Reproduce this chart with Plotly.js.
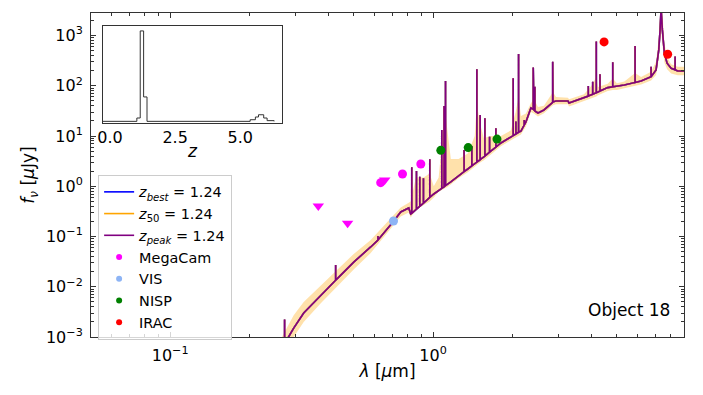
<!DOCTYPE html>
<html>
<head>
<meta charset="utf-8">
<script src="https://cdn.plot.ly/plotly-3.0.1.min.js"></script>
<style>
    html, body { margin: 0; padding: 0; background: #fff; }
    #sed-chart { width: 703px; height: 395px; }
</style>
</head>
<body>
<div id="sed-chart"></div>
<script>
// model continuum (wavelength in um, flux in uJy)
const lambdaCont = [0.26, 0.282, 0.295, 0.322, 0.374, 0.434, 0.499, 0.579, 0.709, 0.753, 0.808, 0.822,
    1.006, 1.168, 1.355, 1.56, 1.811, 1.977, 2.158, 2.254, 2.355, 2.418, 2.505, 2.64, 2.857, 2.933,
    3.258, 3.287, 3.749, 4.238, 4.615, 5.337, 6.18, 6.745, 7.047, 7.216, 7.30, 7.364, 7.447, 7.58,
    7.762, 8.04, 8.52, 9.17];
const fluxCont = [0.0004, 0.001, 0.0015, 0.003, 0.0068, 0.0149, 0.031, 0.062, 0.204, 0.308, 0.37, 0.281,
    0.703, 1.22, 2.21, 3.84, 7.29, 9.6, 12.6, 19.1, 36.3, 33.1, 28.8, 33.1, 47.8, 50.0,
    50.0, 45.6, 57.4, 75.6, 92.1, 104, 125, 152, 207, 519, 1300, 3500, 1300, 446,
    282, 224, 198, 198];

// emission lines of the model
const lineWave = [0.2724, 0.426, 0.617, 0.8296, 0.8646, 0.890, 0.919, 0.9714, 1.079, 1.101, 1.115,
    1.312, 1.404, 1.467, 1.51, 1.574, 1.640, 1.733, 2.017, 2.065, 2.114, 2.221, 2.404, 2.439, 2.85,
    3.893, 4.046, 4.176, 4.313, 4.822, 5.864, 6.745, 8.326];
const linePeak = [0.00224, 0.027, 0.102, 2.39, 2.02, 1.55, 1.44, 3.45, 13.2, 39.8, 125,
    5.29, 6.35, 214, 26.3, 22.6, 9.7, 14.3, 142, 19.4, 432, 20.9, 231, 96.4, 303,
    99.5, 121, 759, 170, 295, 624, 241, 382];
const lineBase = [0.0007, 0.0135, 0.085, 0.29, 0.35, 0.40, 0.46, 0.60, 0.91, 0.98, 1.03,
    1.95, 2.55, 3.02, 3.38, 3.98, 4.77, 6.04, 10.2, 11.0, 11.9, 16.6, 34, 31.6, 47,
    62.5, 68, 73, 78.7, 95.5, 117, 152, 208];

// uncertainty band
const bandWave = [0.26, 0.282, 0.295, 0.322, 0.374, 0.434, 0.499, 0.579, 0.709, 0.753, 0.808, 0.822,
    0.86, 0.92, 0.97, 1.006, 1.05, 1.08, 1.11, 1.13, 1.168, 1.25, 1.355, 1.44, 1.467, 1.5, 1.56, 1.65,
    1.811, 1.977, 2.06, 2.114, 2.158, 2.254, 2.355, 2.418, 2.505, 2.64, 2.857, 2.933, 3.258, 3.287,
    3.749, 4.0, 4.176, 4.238, 4.615, 4.822, 5.0, 5.337, 5.864, 6.18, 6.745, 7.047, 7.216, 7.364,
    7.447, 7.58, 7.762, 8.04, 8.52, 9.17];
const bandLo = [0.00022, 0.00065, 0.001, 0.002, 0.0047, 0.0105, 0.022, 0.047, 0.165, 0.25, 0.3, 0.24,
    0.34, 0.42, 0.5, 0.6, 0.78, 0.84, 0.9, 0.96, 1.08, 1.45, 1.9, 2.5, 2.7, 2.9, 3.3, 4.2,
    6.3, 8.3, 9.3, 10.1, 10.8, 15.5, 30, 28, 24.5, 28.5, 41, 43, 43, 39,
    49, 55, 61, 65, 79, 83, 83, 90, 99, 106, 128, 165, 340, 1500,
    680, 290, 215, 176, 162, 162];
const bandHi = [0.0008, 0.0018, 0.0027, 0.005, 0.0107, 0.023, 0.045, 0.085, 0.26, 0.38, 0.47, 0.5,
    1.5, 1.5, 1.8, 1.0, 1.5, 8, 33, 15, 3.5, 3.5, 4.5, 10, 46, 20, 9, 10,
    10, 13, 30, 60, 25, 28, 45, 55, 38, 40, 75, 60, 58, 54,
    68, 100, 150, 95, 110, 140, 112, 122, 180, 150, 190, 300, 900, 5000,
    3000, 700, 380, 270, 240, 240];

// photometry
const megacamWave = [0.632, 0.765, 0.898];
const megacamFlux = [1.18, 1.76, 2.78];
const megacamLimWave = [0.366, 0.473, 0.655];
const megacamLimFlux = [0.405, 0.183, 1.33];
const visWave = [0.707];
const visFlux = [0.204];
const nispWave = [1.07, 1.36, 1.75];
const nispFlux = [5.2, 5.9, 8.7];
const iracWave = [4.47, 7.8];
const iracFlux = [750, 426];

// P(z)
const zStep = [-0.27, 1.03, 1.16, 1.29, 1.42, 5.38, 5.58, 5.70, 5.90, 6.03, 6.30];
const pdz = [0, 0.037, 1.0, 0.27, 0, 0.018, 0.048, 0.073, 0.037, 0.008, 0];

const zLabel = '1.24';

const xRange = [Math.log10(0.05), Math.log10(9)];
const yRange = [-3, 3.45];

document.addEventListener('DOMContentLoaded', () => {
    drawChart();
});

function buildSed() {
    // 連続光に輝線を差し込む
    const pts = [];
    lambdaCont.forEach((w, i) => pts.push({w: w, f: fluxCont[i], k: 0}));
    lineWave.forEach((w, i) => {
        pts.push({w: w, f: lineBase[i], k: 1});
        pts.push({w: w, f: linePeak[i], k: 2});
        pts.push({w: w, f: lineBase[i], k: 3});
    });
    pts.sort((a, b) => (a.w - b.w) || (a.k - b.k));
    return {x: pts.map(p => p.w), y: pts.map(p => p.f)};
}

function logMinorTicks(fromExp, toExp) {
    // 対数軸の補助目盛り (2..9 x 10^n)
    const vals = [];
    for (let e = fromExp; e <= toExp; e++) {
        for (let m = 2; m <= 9; m++) {
            vals.push(m * Math.pow(10, e));
        }
    }
    return vals;
}

function drawChart() {
    const sed = buildSed();

    const data = [
        {x: bandWave, y: bandLo, mode: 'lines', line: {width: 0, color: 'rgba(255,165,0,0)'},
            showlegend: false, hoverinfo: 'skip'},
        {x: bandWave, y: bandHi, mode: 'lines', line: {width: 0, color: 'rgba(255,165,0,0)'},
            fill: 'tonexty', fillcolor: 'rgba(255,165,0,0.33)', showlegend: false, hoverinfo: 'skip'},
        {x: sed.x, y: sed.y, mode: 'lines', name: '<i>z</i><sub><i>best</i></sub> = ' + zLabel,
            line: {color: 'blue', width: 1.6}},
        {x: sed.x, y: sed.y, mode: 'lines', name: '<i>z</i><sub>50</sub> = ' + zLabel,
            line: {color: 'orange', width: 1.6}},
        {x: sed.x, y: sed.y, mode: 'lines', name: '<i>z</i><sub><i>peak</i></sub> = ' + zLabel,
            line: {color: 'purple', width: 1.6}},
        {x: megacamLimWave, y: megacamLimFlux, mode: 'markers', showlegend: false,
            marker: {symbol: 'triangle-down', color: '#ff00ff', size: 10}},
        {x: megacamWave, y: megacamFlux, mode: 'markers', showlegend: false,
            marker: {color: '#ff00ff', size: 9}},
        {x: visWave, y: visFlux, mode: 'markers', showlegend: false,
            marker: {color: '#8db4f5', size: 9}},
        {x: nispWave, y: nispFlux, mode: 'markers', showlegend: false,
            marker: {color: 'green', size: 9}},
        {x: iracWave, y: iracFlux, mode: 'markers', showlegend: false,
            marker: {color: 'red', size: 9}},
        // 凡例用
        {x: [null], y: [null], mode: 'markers', name: 'MegaCam', marker: {color: '#ff00ff', size: 6}},
        {x: [null], y: [null], mode: 'markers', name: 'VIS', marker: {color: '#8db4f5', size: 6}},
        {x: [null], y: [null], mode: 'markers', name: 'NISP', marker: {color: 'green', size: 6}},
        {x: [null], y: [null], mode: 'markers', name: 'IRAC', marker: {color: 'red', size: 6}},
        // 補助目盛り用の重ね軸
        {x: [null], y: [null], xaxis: 'x3', yaxis: 'y3', mode: 'markers', showlegend: false,
            hoverinfo: 'skip'},
        // inset P(z)
        {x: zStep, y: pdz, xaxis: 'x2', yaxis: 'y2', mode: 'lines', showlegend: false,
            line: {shape: 'hv', color: '#333', width: 1}, hoverinfo: 'skip'}
    ];

    const axisStyle = {
        showline: true, linecolor: '#333', linewidth: 1, mirror: 'allticks',
        ticks: 'inside', ticklen: 5, tickcolor: '#333', showgrid: false, zeroline: false,
        tickfont: {size: 16}, ticklabelstandoff: 4
    };

    const minorStyle = {
        type: 'log', tickmode: 'array', ticks: 'inside', ticklen: 3, tickcolor: '#333',
        showticklabels: false, showline: false, showgrid: false, zeroline: false, mirror: 'ticks'
    };

    const layout = {
        width: 703,
        height: 395,
        margin: {l: 91, r: 19, t: 13, b: 58},
        paper_bgcolor: '#fff',
        plot_bgcolor: '#fff',
        font: {family: 'DejaVu Sans', size: 16, color: '#000'},
        showlegend: true,
        legend: {
            x: 0.012, y: 0.5, xanchor: 'left', yanchor: 'top', traceorder: 'normal',
            bgcolor: 'rgba(255,255,255,0.8)', bordercolor: '#cccccc', borderwidth: 1,
            font: {size: 14.4}
        },
        xaxis: Object.assign({}, axisStyle, {
            type: 'log',
            range: xRange,
            tickvals: [0.1, 1],
            ticktext: ['10<sup>\u22121</sup>', '10<sup>0</sup>'],
            title: {text: '<i>λ</i> [<i>μ</i>m]', font: {size: 17}, standoff: 0}
        }),
        yaxis: Object.assign({}, axisStyle, {
            type: 'log',
            range: yRange,
            tickvals: [1e-3, 1e-2, 1e-1, 1, 10, 100, 1000],
            ticktext: ['10<sup>\u22123</sup>', '10<sup>\u22122</sup>', '10<sup>\u22121</sup>',
                '10<sup>0</sup>', '10<sup>1</sup>', '10<sup>2</sup>', '10<sup>3</sup>'],
            title: {text: '<i>f</i><sub><i>ν</i></sub> [<i>μ</i>Jy]', font: {size: 17}, standoff: 6}
        }),
        xaxis3: Object.assign({}, minorStyle, {
            overlaying: 'x', anchor: 'y', side: 'bottom', range: xRange,
            tickvals: logMinorTicks(-2, 0)
        }),
        yaxis3: Object.assign({}, minorStyle, {
            overlaying: 'y', anchor: 'x', side: 'left', range: yRange,
            tickvals: logMinorTicks(-3, 3)
        }),
        xaxis2: {
            domain: [0.0202, 0.322], anchor: 'y2',
            range: [-0.27, 6.6],
            tickvals: [0, 2.5, 5], ticktext: ['0.0', '2.5', '5.0'],
            showline: true, mirror: true, linecolor: '#333', linewidth: 1,
            ticks: '', showgrid: false, zeroline: false,
            tickfont: {size: 16}
        },
        yaxis2: {
            domain: [0.66, 0.96], anchor: 'x2',
            range: [-0.02, 1.055],
            showline: true, mirror: true, linecolor: '#333', linewidth: 1,
            ticks: '', showticklabels: false, showgrid: false, zeroline: false
        },
        annotations: [
            {text: 'Object 18', xref: 'paper', yref: 'paper', x: 0.98, y: 0.083,
                xanchor: 'right', yanchor: 'middle', showarrow: false, font: {size: 17}},
            {text: '<i>z</i>', xref: 'x2 domain', yref: 'paper', x: 0.5, y: 0.575,
                xanchor: 'center', yanchor: 'middle', showarrow: false, font: {size: 17}}
        ]
    };

    Plotly.newPlot('sed-chart', data, layout, {staticPlot: true});
}
</script>
</body>
</html>
